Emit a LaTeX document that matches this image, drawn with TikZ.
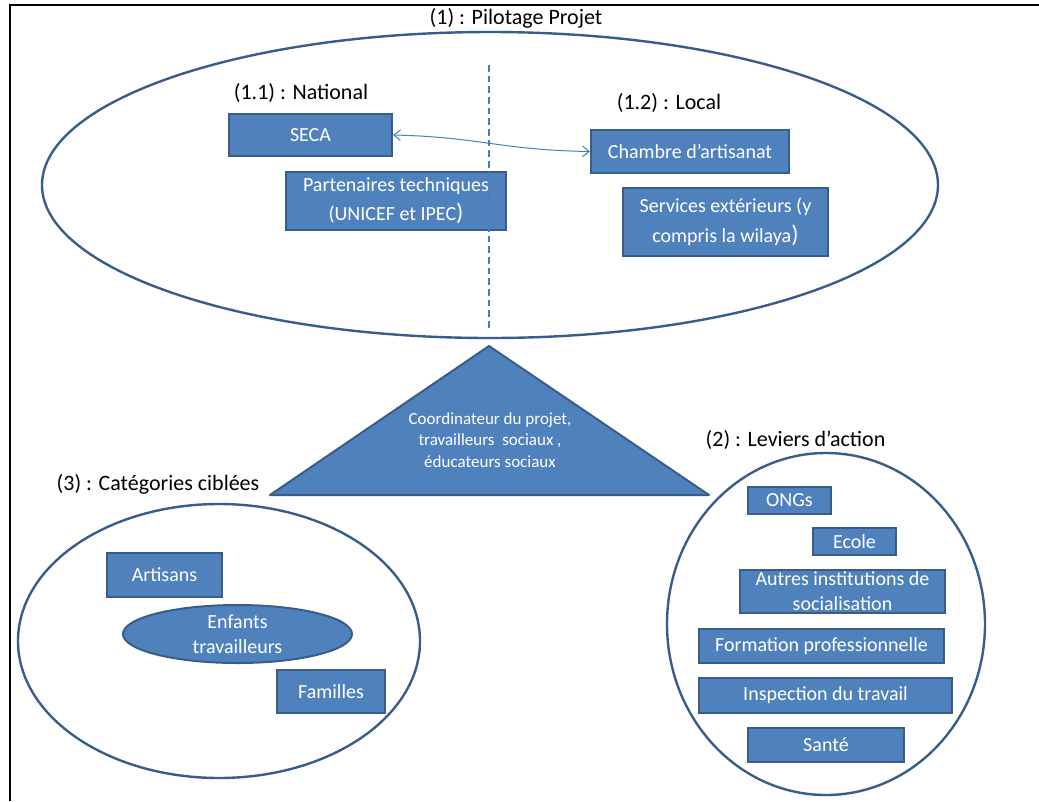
\documentclass[tikz,border=0pt]{standalone}
\usepackage{fontspec}
\setmainfont{Carlito}
\usepackage{tikz}
\usetikzlibrary{arrows.meta,shapes.geometric}
\definecolor{boxfill}{HTML}{4F81BD}
\definecolor{boxline}{HTML}{385D8A}
\definecolor{linkblue}{HTML}{4A7EBB}
\tikzset{>={Straight Barb[length=5pt,width=8pt]}}
\tikzstyle{block} = [draw=boxline, fill=boxfill, line width=1.5pt, rectangle, align=center, inner sep=0pt, text=white, font=\fontsize{15}{19}\selectfont]
\tikzstyle{oval} = [block, ellipse]
\tikzstyle{heading} = [font=\fontsize{16.5}{20}\selectfont, inner sep=0pt]
\tikzstyle{zone} = [draw=boxline, line width=1.8pt]
\newcommand{\bigparen}{{\fontsize{18}{18}\selectfont)}}

\begin{document}
\begin{tikzpicture}[x=0.75pt, y=-0.75pt]

    \useasboundingbox (0,0) rectangle (1039,801);
    \draw[line width=1.5pt] (10,801) -- (10,5) -- (1039,5);

    % (1) pilotage
    \draw[zone] (490,185) ellipse [x radius=448, y radius=153];
    \node[heading] (pilotage) at (516,18) {(1) : Pilotage Projet};
    \node[heading] (national) at (301,93) {(1.1) : National};
    \node[heading] (local) at (669,103) {(1.2) : Local};

    \node[block, minimum width=122.25pt, minimum height=31.5pt] (seca) at (310.5,135) {SECA};
    \node[block, minimum width=165pt, minimum height=43.5pt, font=\fontsize{15}{21.75}\selectfont] (partenaires) at (396,201) {Partenaires techniques\\(UNICEF et IPEC\bigparen};
    \node[block, minimum width=148.5pt, minimum height=32.25pt] (chambre) at (690,151.5) {Chambre d’artisanat};
    \node[block, minimum width=153.75pt, minimum height=51pt, font=\fontsize{15}{22.5}\selectfont] (services) at (725.5,222) {Services extérieurs (y\\compris la wilaya\bigparen};

    \coordinate (dtop) at (489,65);
    \coordinate (dbot) at (489,328);
    \draw[linkblue, line width=1.1pt, dash pattern=on 5pt off 3pt] (dtop) -- (dbot);

    \draw[<->, linkblue, line width=0.75pt] (seca.east) .. controls (480,137) and (500,150) .. (chambre.west);

    % coordination
    \coordinate (apex) at (489,346);
    \coordinate (baseL) at (270,495);
    \coordinate (baseR) at (709,495);
    \draw[draw=boxline, fill=boxfill, line width=1.5pt, line join=round] (apex) -- (baseL) -- (baseR) -- cycle;
    \node[text=white, align=center, inner sep=0pt, font=\fontsize{12.75}{16}\selectfont] (coord) at (490,440) {Coordinateur du projet,\\travailleurs\ \ sociaux ,\\éducateurs sociaux};

    % (3) categories
    \node[heading] (categories) at (158,484) {(3) : Catégories ciblées};
    \draw[zone] (219,641) ellipse [x radius=201, y radius=137];
    \node[block, minimum width=86.25pt, minimum height=33pt] (artisans) at (164.5,575) {Artisans};
    \node[oval, minimum width=171.75pt, minimum height=43.5pt, font=\fontsize{15}{18.75}\selectfont] (enfants) at (237.5,634) {Enfants\\travailleurs};
    \node[block, minimum width=81pt, minimum height=32.25pt] (familles) at (331,691.5) {Familles};

    % (2) leviers
    \node[heading] (leviers) at (795.5,440) {(2) : Leviers d’action};
    \draw[zone] (826,624) ellipse [x radius=159, y radius=171];
    \node[block, minimum width=62.25pt, minimum height=20.25pt] (ongs) at (789.5,500.5) {ONGs};
    \node[block, minimum width=62.25pt, minimum height=20.25pt] (ecole) at (854.5,541.5) {Ecole};
    \node[block, minimum width=153.75pt, minimum height=32.25pt, font=\fontsize{15}{18.75}\selectfont] (autres) at (842.5,591.5) {Autres institutions de\\socialisation};
    \node[block, minimum width=183.75pt, minimum height=25.5pt] (formation) at (821.5,646) {Formation professionnelle};
    \node[block, minimum width=189.75pt, minimum height=26.25pt] (inspection) at (825.5,695.5) {Inspection du travail};
    \node[block, minimum width=117pt, minimum height=25.5pt] (sante) at (826,745) {Santé};

\end{tikzpicture}
\end{document}
